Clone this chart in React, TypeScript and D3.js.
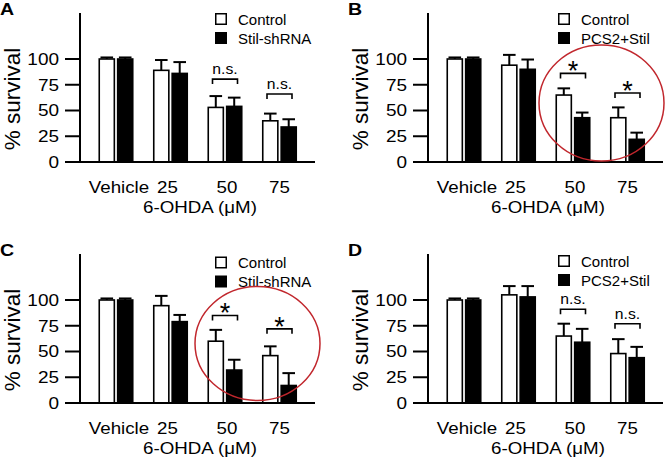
import React from "react";
import * as d3 from "d3";

// ---- data ----
const categories = ["Vehicle", "25", "50", "75"];
const yTicks = [0, 25, 50, 75, 100];
const panelLetters = ["A", "B", "C", "D"];
const treatmentNames = ["Stil-shRNA", "PCS2+Stil", "Stil-shRNA", "PCS2+Stil"];

const aControl = [100, 89, 53, 40];
const aControlErr = [1.5, 10, 11, 7];
const aTreat = [100, 86, 54, 34];
const aTreatErr = [1.5, 11, 8.5, 7.5];

const bControl = [100, 94, 65, 43];
const bControlErr = [1.5, 10, 6.5, 10];
const bTreat = [100, 90, 43, 22];
const bTreatErr = [1.5, 9.5, 5, 6.5];

const cControl = [100, 94.5, 60, 46];
const cControlErr = [1.5, 9.5, 11, 9];
const cTreat = [100, 79, 32, 17];
const cTreatErr = [1.5, 6.5, 10, 12];

const dControl = [100, 105, 65, 48];
const dControlErr = [1.5, 8.5, 12, 14];
const dTreat = [100, 103, 59, 44];
const dTreatErr = [1.5, 10.5, 13, 10.5];

// significance brackets: [category, bracket level, label]
const aSig: [string, number, string][] = [["50", 80.5, "n.s."], ["75", 66, "n.s."]];
const bSig: [string, number, string][] = [["50", 86, "*"], ["75", 67, "*"]];
const cSig: [string, number, string][] = [["50", 85, "*"], ["75", 72, "*"]];
const dSig: [string, number, string][] = [["50", 91, "n.s."], ["75", 77, "n.s."]];

const panelsData = [
  { control: aControl, controlErr: aControlErr, treat: aTreat, treatErr: aTreatErr, sig: aSig },
  { control: bControl, controlErr: bControlErr, treat: bTreat, treatErr: bTreatErr, sig: bSig },
  { control: cControl, controlErr: cControlErr, treat: cTreat, treatErr: cTreatErr, sig: cSig },
  { control: dControl, controlErr: dControlErr, treat: dTreat, treatErr: dTreatErr, sig: dSig },
];

// ---- layout ----
const offsets = [
  [0, 0],
  [348, 0],
  [0, 241],
  [348, 241],
];
const legendPos = [
  [215, 13],
  [210, 13],
  [215, 15.5],
  [210, 14],
];
const labelShift = [3, -3, 2, 0];
const ellipses: { panel: number; cx: number; cy: number; rx: number; ry: number }[] = [
  { panel: 1, cx: 253.5, cy: 103, rx: 62.5, ry: 58 },
  { panel: 2, cx: 257.5, cy: 102.5, rx: 62.5, ry: 57 },
];

const FONT = "'Liberation Sans', Arial, Helvetica, sans-serif";
const SX = 1.15;

const axisX = 80;
const axisTop = 13;
const axisRight = 315;

const y = d3.scaleLinear().domain([0, 100]).range([162, 59]);
const xGroup = d3.scalePoint<string>().domain(categories).range([116, 279.5]);
const xSub = d3.scaleBand<string>().domain(["control", "treat"]).range([-17.5, 17.5]).paddingInner(0.1);

function SText(props: {
  x: number;
  y: number;
  size: number;
  anchor?: string;
  weight?: string;
  sx?: number;
  dy?: string;
  children: React.ReactNode;
}) {
  const { x, y: yy, size, anchor = "middle", weight = "normal", sx = SX, dy, children } = props;
  return (
    <text
      transform={`translate(${x},${yy}) scale(${sx},1)`}
      textAnchor={anchor as any}
      fontSize={size}
      fontWeight={weight}
      fontFamily={FONT}
      dy={dy}
      fill="#000"
    >
      {children}
    </text>
  );
}

function Panel({ idx }: { idx: number }) {
  const p = panelsData[idx];
  const [ox, oy] = offsets[idx];
  const [lx, ly] = legendPos[idx];
  const series = [
    { key: "control", vals: p.control, errs: p.controlErr, fill: "#fff" },
    { key: "treat", vals: p.treat, errs: p.treatErr, fill: "#000" },
  ];
  const bw = xSub.bandwidth();
  const capHalf = 6.3;
  return (
    <g transform={`translate(${ox},${oy})`}>
      {/* panel letter */}
      <SText x={0} y={15} size={17} anchor="start" weight="bold">
        {panelLetters[idx]}
      </SText>
      {/* y title */}
      <text
        transform={`translate(20,${99}) rotate(-90)`}
        textAnchor="middle"
        fontSize={22.5}
        fontFamily={FONT}
        fill="#000"
      >
        % survival
      </text>
      {/* bars */}
      {series.map((s) =>
        categories.map((c, i) => {
          const x0 = (xGroup(c) as number) + (xSub(s.key) as number);
          const cx = x0 + bw / 2;
          const top = y(s.vals[i]);
          const errTop = y(s.vals[i] + s.errs[i]);
          return (
            <g key={s.key + c}>
              <line x1={cx} x2={cx} y1={top} y2={errTop} stroke="#000" strokeWidth={2} />
              <line x1={cx - capHalf} x2={cx + capHalf} y1={errTop} y2={errTop} stroke="#000" strokeWidth={2} />
              <rect
                x={x0 + 0.75}
                y={top}
                width={bw - 1.5}
                height={y(0) - top}
                fill={s.fill}
                stroke="#000"
                strokeWidth={1.6}
              />
            </g>
          );
        })
      )}
      {/* axes */}
      <line x1={axisX} x2={axisX} y1={axisTop} y2={y(0)} stroke="#000" strokeWidth={2} />
      <line x1={axisX - 15} x2={axisRight} y1={y(0)} y2={y(0)} stroke="#000" strokeWidth={2} />
      {yTicks.map((t) => (
        <g key={t}>
          <line x1={axisX - 15} x2={axisX} y1={y(t)} y2={y(t)} stroke="#000" strokeWidth={2} />
          <SText x={59} y={y(t)} size={16.5} anchor="end" dy="0.36em">
            {t}
          </SText>
        </g>
      ))}
      {categories.map((c, i) => (
        <SText key={c} x={(xGroup(c) as number) + labelShift[i]} y={193} size={16.3}>
          {c}
        </SText>
      ))}
      <SText x={200} y={213} size={16.3}>
        6-OHDA (μM)
      </SText>
      {/* significance */}
      {p.sig.map(([c, lvl, lab]) => {
        const cx = xGroup(c) as number;
        const by = y(lvl);
        const hw = 12.5;
        return (
          <g key={c}>
            <path
              d={`M${cx - hw},${by + 5}V${by}H${cx + hw}V${by + 5}`}
              fill="none"
              stroke="#000"
              strokeWidth={1.6}
            />
            {lab === "*" ? (
              <SText x={cx} y={by + 7} size={27} sx={1}>
                *
              </SText>
            ) : (
              <SText x={cx} y={by - 5} size={15} sx={1.05}>
                {lab}
              </SText>
            )}
          </g>
        );
      })}
      {/* legend */}
      <rect x={lx + 0.75} y={ly + 0.75} width={10.5} height={10.5} fill="#fff" stroke="#000" strokeWidth={1.5} />
      <rect x={lx} y={ly + 19} width={12} height={12} fill="#000" />
      <text x={lx + 23} y={ly + 11.5} fontSize={15} fontFamily={FONT} fill="#000">
        Control
      </text>
      <text x={lx + 23} y={ly + 30.5} fontSize={15} fontFamily={FONT} fill="#000">
        {treatmentNames[idx]}
      </text>
      {ellipses
        .filter((e) => e.panel === idx)
        .map((e, k) => (
          <ellipse key={k} cx={e.cx} cy={e.cy} rx={e.rx} ry={e.ry} fill="none" stroke="#c1272d" strokeWidth={1.5} />
        ))}
    </g>
  );
}

export default function App() {
  return (
    <svg
      width={665}
      height={463}
      style={{ position: "absolute", left: 0, top: 0, background: "#fff" }}
    >
      <rect width={665} height={463} fill="#fff" />
      {[0, 1, 2, 3].map((i) => (
        <Panel key={i} idx={i} />
      ))}
    </svg>
  );
}
